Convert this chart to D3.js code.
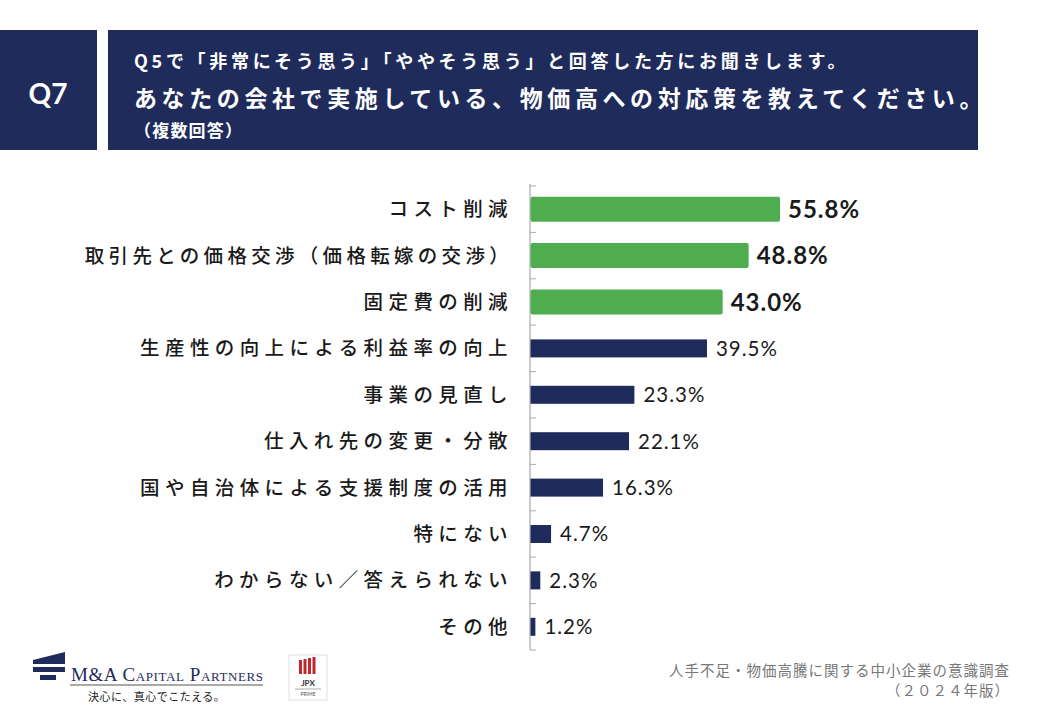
<!DOCTYPE html>
<html>
<head>
<meta charset="utf-8">
<script src="https://cdn.jsdelivr.net/npm/d3@7"></script>
<style>
  body { margin: 0; background: #fff; }
  svg { display: block; }
</style>
</head>
<body>
<script>
const categories = [
  "コスト削減",
  "取引先との価格交渉（価格転嫁の交渉）",
  "固定費の削減",
  "生産性の向上による利益率の向上",
  "事業の見直し",
  "仕入れ先の変更・分散",
  "国や自治体による支援制度の活用",
  "特にない",
  "わからない／答えられない",
  "その他"
];
const values = [55.8, 48.8, 43.0, 39.5, 23.3, 22.1, 16.3, 4.7, 2.3, 1.2];
const highlight = [true, true, true, false, false, false, false, false, false, false];

const headerLines = [
  "Q5で「非常にそう思う」「ややそう思う」と回答した方にお聞きします。",
  "あなたの会社で実施している、物価高への対応策を教えてください。",
  "（複数回答）"
];
const footerLines = ["人手不足・物価高騰に関する中小企業の意識調査", "（２０２４年版）"];

const navy = "#1f2b5b";
const green = "#4fac4f";
const jp = "'Noto Sans CJK JP', 'Noto Sans', sans-serif";
const num = "Lato, 'Noto Sans', sans-serif";

const W = 1040, H = 720;
const svg = d3.select("body").append("svg")
  .attr("width", W)
  .attr("height", H);

// header boxes
svg.append("rect").attr("x", 0).attr("y", 30).attr("width", 97).attr("height", 120).attr("fill", navy);
svg.append("rect").attr("x", 108).attr("y", 30).attr("width", 870).attr("height", 120).attr("fill", navy);
svg.append("text")
  .attr("x", 48).attr("y", 104)
  .attr("text-anchor", "middle")
  .attr("fill", "#fff")
  .attr("font-family", num)
  .attr("font-weight", "bold")
  .attr("font-size", 28)
  .text("Q7");

const hdr = [
  {y: 68, size: 18, ls: 3.7},
  {y: 107, size: 23, ls: 4.6},
  {y: 137, size: 17, ls: 1.2}
];
headerLines.forEach((t, i) => {
  svg.append("text")
    .attr("x", 134).attr("y", hdr[i].y)
    .attr("fill", "#fff")
    .attr("font-family", jp)
    .attr("font-weight", "bold")
    .attr("font-size", hdr[i].size)
    .attr("letter-spacing", hdr[i].ls)
    .text(t);
});

// chart
const x0 = 530;
const x = d3.scaleLinear().domain([0, 55.8]).range([x0, 780]);
const y = d3.scaleBand().domain(categories).range([186, 650]);

const g = svg.append("g");

// axis line + ticks at category boundaries
g.append("line")
  .attr("x1", x0).attr("x2", x0)
  .attr("y1", 184).attr("y2", 650)
  .attr("stroke", "#999").attr("stroke-width", 1);

g.selectAll(".tick")
  .data(categories.concat([null]))
  .enter().append("line")
  .attr("x1", x0).attr("x2", x0 + 6)
  .attr("y1", (d, i) => 186 + i * y.bandwidth())
  .attr("y2", (d, i) => 186 + i * y.bandwidth())
  .attr("stroke", "#aaa").attr("stroke-width", 1);

g.selectAll(".bar")
  .data(categories)
  .enter().append("rect")
  .attr("x", x0 + 0.5)
  .attr("y", (d, i) => y(d) + y.bandwidth() / 2 - (highlight[i] ? 12.5 : 9))
  .attr("width", (d, i) => x(values[i]) - x0 - 0.5)
  .attr("height", (d, i) => highlight[i] ? 25 : 18)
  .attr("rx", (d, i) => highlight[i] ? 2 : 0)
  .attr("fill", (d, i) => highlight[i] ? green : navy);

// category labels
g.selectAll(".lbl")
  .data(categories)
  .enter().append("text")
  .attr("x", 513)
  .attr("y", d => y(d) + y.bandwidth() / 2)
  .attr("dy", "0.36em")
  .attr("text-anchor", "end")
  .attr("fill", "#1a1a1a")
  .attr("font-family", jp)
  .attr("font-weight", 500)
  .attr("font-size", 19.5)
  .attr("letter-spacing", d => d.length > 16 ? 4.3 : 5.4)
  .text(d => d);

// value labels
g.selectAll(".val")
  .data(categories)
  .enter().append("text")
  .attr("x", (d, i) => x(values[i]) + (highlight[i] ? 8 : 9))
  .attr("y", d => y(d) + y.bandwidth() / 2)
  .attr("dy", "0.36em")
  .attr("fill", "#1a1a1a")
  .attr("font-family", num)
  .attr("font-weight", (d, i) => highlight[i] ? "bold" : "normal")
  .attr("font-size", (d, i) => highlight[i] ? 24 : 20.5)
  .attr("letter-spacing", 1)
  .text((d, i) => values[i].toFixed(1) + "%");

// footer source text
footerLines.forEach((t, i) => {
  svg.append("text")
    .attr("x", 1010).attr("y", 676 + i * 20)
    .attr("text-anchor", "end")
    .attr("fill", "#777")
    .attr("font-family", jp)
    .attr("font-size", 14.5)
    .attr("letter-spacing", 1)
    .text(t);
});

// logo (simplified)
const logo = svg.append("g");
logo.append("path").attr("d", "M33,660 L65,652 L65,664 L33,664 Z").attr("fill", navy);
logo.append("rect").attr("x", 33).attr("y", 667).attr("width", 32).attr("height", 5).attr("fill", navy);
logo.append("rect").attr("x", 40).attr("y", 675).attr("width", 16).attr("height", 5).attr("fill", navy);
logo.append("text")
  .attr("x", 71).attr("y", 681)
  .attr("fill", navy)
  .attr("font-family", "'Liberation Serif', serif")
  .attr("font-size", 19)
  .attr("font-variant", "small-caps")
  .attr("textLength", 192)
  .text("M&A Capital Partners");
logo.append("line")
  .attr("x1", 70).attr("x2", 263).attr("y1", 685).attr("y2", 685)
  .attr("stroke", "#555").attr("stroke-width", 1);
logo.append("text")
  .attr("x", 88).attr("y", 701)
  .attr("fill", "#222")
  .attr("font-family", "'Noto Sans CJK JP', serif")
  .attr("font-size", 11)
  .attr("letter-spacing", 0.5)
  .text("決心に、真心でこたえる。");

const jpx = svg.append("g");
jpx.append("rect").attr("x", 289).attr("y", 655).attr("width", 38).attr("height", 45)
  .attr("fill", "#fff").attr("stroke", "#ddd");
[0, 1, 2, 3].forEach(k => {
  jpx.append("rect").attr("x", 299 + k * 4.5).attr("y", 660 - k).attr("width", 3).attr("height", 14 + k)
    .attr("fill", "#c0282d");
});
jpx.append("text").attr("x", 308).attr("y", 686).attr("text-anchor", "middle")
  .attr("font-family", num).attr("font-weight", "bold").attr("font-size", 8).attr("fill", "#333").text("JPX");
jpx.append("line").attr("x1", 295).attr("x2", 321).attr("y1", 689).attr("y2", 689).attr("stroke", "#aaa");
jpx.append("text").attr("x", 308).attr("y", 696).attr("text-anchor", "middle")
  .attr("font-family", num).attr("font-size", 5).attr("fill", "#555").text("PRIME");
</script>
</body>
</html>
